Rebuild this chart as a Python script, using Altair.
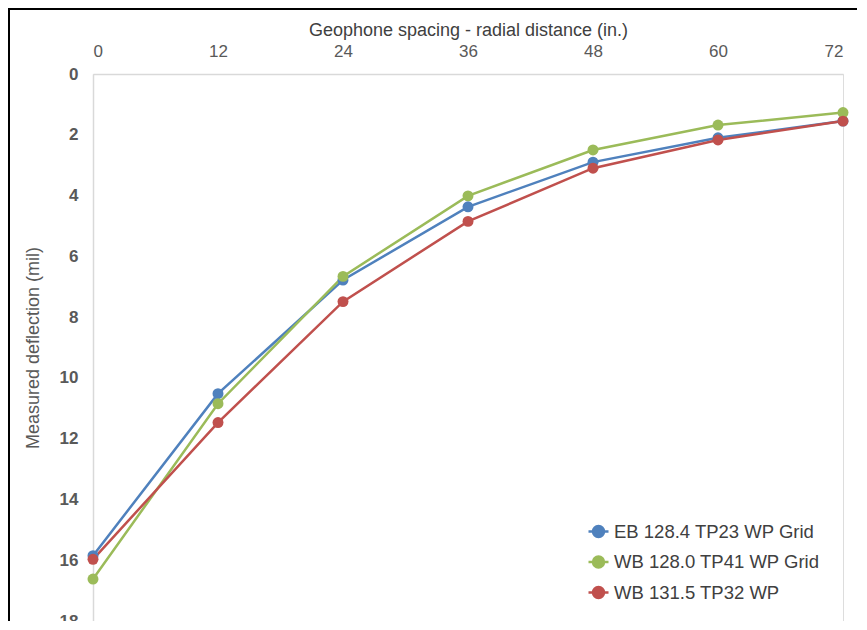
import altair as alt
import pandas as pd

spacing = [0, 12, 24, 36, 48, 60, 72]
series_names = ["EB 128.4 TP23 WP Grid", "WB 128.0 TP41 WP Grid", "WB 131.5 TP32 WP"]
eb_128_4 = [15.85, 10.52, 6.78, 4.37, 2.90, 2.10, 1.55]
wb_128_0 = [16.62, 10.85, 6.66, 4.01, 2.50, 1.68, 1.27]
wb_131_5 = [15.97, 11.47, 7.49, 4.85, 3.10, 2.17, 1.55]
colors = ["#4F81BD", "#9BBB59", "#C0504D"]
x_ticks = [0, 12, 24, 36, 48, 60, 72]
y_ticks = [0, 2, 4, 6, 8, 10, 12, 14, 16, 18]

rows = []
for name, vals in zip(series_names, [eb_128_4, wb_128_0, wb_131_5]):
    for s, v in zip(spacing, vals):
        rows.append({"spacing": s, "deflection": v, "series": name})
df = pd.DataFrame(rows)

scale_c = alt.Scale(domain=series_names, range=colors)
sym_path = "M-1,0H1M-0.55,0A0.55,0.55,0,1,1,0.55,0A0.55,0.55,0,1,1,-0.55,0Z"
legend = alt.Legend(
    title=None, orient="none", legendX=494, legendY=446,
    symbolType=sym_path, symbolSize=400, symbolStrokeWidth=2.5,
    labelFont="Liberation Sans", labelFontSize=18.5, labelColor="#404040",
    rowPadding=8.5, labelOffset=4, labelLimit=400,
)

x = alt.X("spacing:Q",
          scale=alt.Scale(domain=[0, 72], nice=False, zero=False),
          axis=alt.Axis(orient="top", values=x_ticks, title="Geophone spacing - radial distance (in.)",
                        ticks=False, grid=False, domainColor="#d9d9d9", domainWidth=1.5,
                        labelFont="Liberation Sans", labelFontSize=17, labelColor="#595959",
                        labelPadding=14, titleFont="Liberation Sans", titleFontSize=18,
                        titleFontWeight="normal", titleColor="#404040", titlePadding=3))
y = alt.Y("deflection:Q",
          scale=alt.Scale(domain=[0, 18], reverse=True, nice=False),
          axis=alt.Axis(values=y_ticks, title="Measured deflection (mil)",
                        ticks=False, grid=False, domainColor="#d9d9d9", domainWidth=1.5,
                        labelFont="Liberation Sans", labelFontSize=17, labelColor="#595959",
                        labelFontWeight="bold", labelPadding=15,
                        titleFont="Liberation Sans", titleFontSize=18, titleFontWeight="normal",
                        titleColor="#595959", titlePadding=17))

base = alt.Chart(df)
lines = base.mark_line(strokeWidth=2.5).encode(
    x=x, y=y,
    stroke=alt.Stroke("series:N", scale=scale_c, legend=legend),
    detail="series:N",
)
points = base.mark_circle(size=120, opacity=1).encode(
    x=x, y=y,
    fill=alt.Fill("series:N", scale=scale_c, legend=legend),
)

frame_df = pd.DataFrame({"f": [0]})
top_rule = alt.Chart(frame_df).mark_rule(color="black", strokeWidth=2).encode(
    x=alt.value(-85), x2=alt.value(770), y=alt.value(-65))
left_rule = alt.Chart(frame_df).mark_rule(color="black", strokeWidth=2).encode(
    x=alt.value(-84), y=alt.value(-66), y2=alt.value(560))

chart = alt.layer(lines, points, top_rule, left_rule).properties(
    width=750, height=547,
    autosize=alt.AutoSizeParams(type="none"),
    padding={"left": 85, "top": 66, "right": 14, "bottom": 0},
).configure_view(stroke=None).configure(background="white")

chart.save("out.html", embed_options={"renderer": "svg", "actions": False})
